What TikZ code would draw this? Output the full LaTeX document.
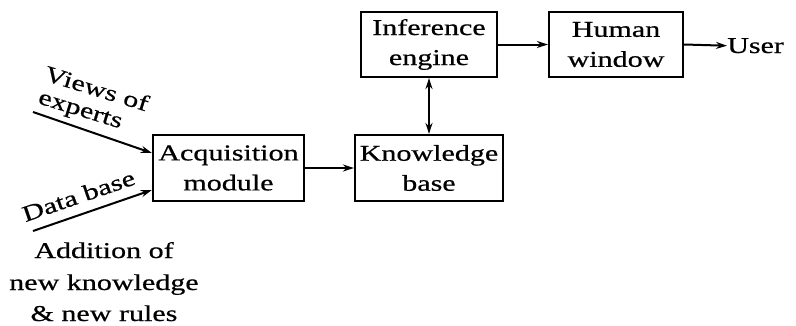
\documentclass[tikz,border=0pt]{standalone}
\usepackage{fontspec}
\setmainfont{Liberation Serif}[FakeStretch=1.33,FakeBold=0.6]
\usetikzlibrary{arrows.meta,calc}
\begin{document}
\begin{tikzpicture}[x=1pt,y=-1pt,
  every node/.style={inner sep=0pt, font=\fontsize{22.6}{30}\selectfont},
  block/.style={draw, line width=2.2pt, align=center},
  flow/.style={line width=2pt, -{Stealth[length=11pt,width=7pt]}},
  both/.style={line width=2pt, {Stealth[length=11pt,width=7pt]}-{Stealth[length=11pt,width=7pt]}},
  tag/.style={anchor=base west}]
\useasboundingbox (0,0) rectangle (796,325);

% processing blocks
\node[block, minimum width=136pt, minimum height=65pt] (inf) at (429,44.5) {Inference\\engine};
\node[block, minimum width=134pt, minimum height=65pt] (hum) at (616,44.5) {Human\\window};
\node[block, minimum width=148pt, minimum height=66pt] (know) at (429,168) {Knowledge\\base};
\node[block, minimum width=151pt, minimum height=66pt] (acq) at (228.5,168) {Acquisition\\module};
\node[anchor=base west] (user) at (727,53) {User};

% flow between blocks
\draw[flow] (inf.east) -- (hum.west);
\draw[flow] (hum.east) -- (user.west);
\draw[both] (inf.south) -- (know.north);
\draw[flow] (acq.east) -- (know.west);

% inputs to the acquisition module
\coordinate (vsrc) at (33,112);
\coordinate (dsrc) at (33,231);
\draw[flow] (vsrc) -- ($(acq.west)+(0,-15)$);
\draw[flow] (dsrc) -- ($(acq.west)+(0,22)$);
\node[tag, rotate=-17] (views1) at (43,80) {Views of};
\node[tag, rotate=-17] (views2) at (37,103) {experts};
\node[anchor=base, rotate=19] (dbase) at (81,203) {Data base};

% note below the inputs
\node[anchor=base] (add1) at (104,258) {Addition of};
\node[anchor=base] (add2) at (104,290) {new knowledge};
\node[anchor=base] (add3) at (104,321) {\& new rules};
\end{tikzpicture}
\end{document}
